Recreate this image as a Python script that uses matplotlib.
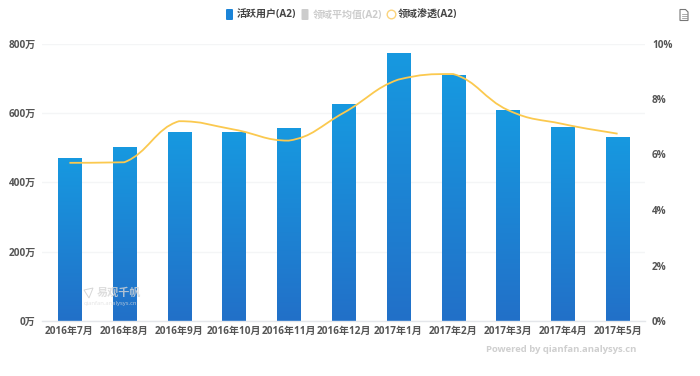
import numpy as np
import matplotlib
matplotlib.use('Agg')
import matplotlib.pyplot as plt
from matplotlib.path import Path
from matplotlib.patches import PathPatch, FancyBboxPatch, Polygon
from matplotlib.colors import LinearSegmentedColormap
from matplotlib.lines import Line2D

plt.rcParams['font.family'] = ['Open Sans', 'Noto Sans CJK SC', 'DejaVu Sans']

months = ['2016年7月', '2016年8月', '2016年9月', '2016年10月', '2016年11月', '2016年12月',
          '2017年1月', '2017年2月', '2017年3月', '2017年4月', '2017年5月']
active_users = [470, 502, 545, 545, 556, 625, 773, 709, 608, 560, 530]
penetration = [5.7, 5.72, 7.2, 6.9, 6.5, 7.5, 8.7, 8.9, 7.6, 7.1, 6.75]
left_ticks = [0, 200, 400, 600, 800]
right_ticks = [0, 2, 4, 6, 8, 10]
legend_names = ['活跃用户(A2)', '领域平均值(A2)', '领域渗透(A2)']

W, H = 700, 376
fig = plt.figure(figsize=(W / 100, H / 100), dpi=100)
ax = fig.add_axes([42 / W, 1 - 321 / H, (645 - 42) / W, (321 - 43.5) / H])
ax2 = ax.twinx()
x = np.arange(len(months))

cmap = LinearSegmentedColormap.from_list('bar', ['#2270c8', '#1799e0'])
grad = np.linspace(0, 1, 256).reshape(-1, 1)
bars = ax.bar(x, active_users, width=0.42, color='none', zorder=2)
for b in bars:
    bx, bw, bh = b.get_x(), b.get_width(), b.get_height()
    im = ax.imshow(grad, extent=[bx, bx + bw, 0, bh], origin='lower', aspect='auto',
                   cmap=cmap, zorder=2)
    im.set_clip_path(b)
ax.set_xlim(-0.5, len(months) - 0.5)
ax.set_ylim(0, 800)
ax2.set_ylim(0, 10)

# smooth curve through the data points, control points kept inside each segment
pts = np.column_stack([x, penetration])
verts = [tuple(pts[0])]
codes = [Path.MOVETO]
s = 0.22
for i in range(len(pts) - 1):
    p0, p1 = pts[max(i - 1, 0)], pts[i]
    p2, p3 = pts[i + 1], pts[min(i + 2, len(pts) - 1)]
    c1 = p1 + s * (p2 - p0)
    c2 = p2 - s * (p3 - p1)
    lo, hi = min(p1[1], p2[1]), max(p1[1], p2[1])
    c1[1] = np.clip(c1[1], lo, hi)
    c2[1] = np.clip(c2[1], lo, hi)
    verts += [tuple(c1), tuple(c2), tuple(p2)]
    codes += [Path.CURVE4] * 3
ax2.add_patch(PathPatch(Path(verts, codes), fc='none', ec='#fbc94f', lw=1.3, zorder=5))

for a in (ax, ax2):
    for sp in a.spines.values():
        sp.set_visible(False)
ax.set_zorder(1)
ax2.set_zorder(2)
ax.patch.set_visible(False)
ax2.patch.set_visible(False)
ax.spines['bottom'].set_visible(True)
ax.spines['bottom'].set_color('#e4e6ea')
ax.spines['bottom'].set_linewidth(1)
ax.set_axisbelow(True)
ax.yaxis.grid(True, color='#f4f5f6', lw=1)
ax.set_xticks(x)
ax.set_xticklabels(months)
ax.set_yticks(left_ticks)
ax.set_yticklabels([f'{v}万' for v in left_ticks])
ax2.set_yticks(right_ticks)
ax2.set_yticklabels([f'{v}%' for v in right_ticks])
for a in (ax, ax2):
    a.tick_params(length=0, labelsize=7.2, labelcolor='#555555')
    for t in a.get_xticklabels() + a.get_yticklabels():
        t.set_fontweight('bold')
ax.tick_params(axis='x', pad=3.5)
ax.tick_params(axis='y', pad=4.5)
ax2.tick_params(axis='y', pad=5)

def px(xp, yp):
    return xp / W, 1 - yp / H

def ftext(xp, yp, s, **kw):
    kw.setdefault('va', 'center')
    kw.setdefault('ha', 'left')
    fig.text(*px(xp, yp), s, **kw)

# legend
fig.add_artist(FancyBboxPatch(px(226, 20), 7 / W, 11 / H, boxstyle='round,pad=0,rounding_size=0.002',
                              transform=fig.transFigure, fc='#1b84d8', ec='none'))
fig.add_artist(FancyBboxPatch(px(301.5, 20), 7 / W, 11 / H, boxstyle='round,pad=0,rounding_size=0.002',
                              transform=fig.transFigure, fc='#cccccc', ec='none'))
fig.add_artist(Line2D([390.5 / W], [1 - 13.5 / H], marker='o', ms=6.2, mfc='white', mec='#fbd47c',
                      mew=1, transform=fig.transFigure, ls='none'))
ftext(237, 15, legend_names[0], fontsize=7.2, fontweight='bold', color='#444444')
ftext(312.5, 15, legend_names[1], fontsize=7.2, fontweight='bold', color='#cccccc')
ftext(398, 15, legend_names[2], fontsize=7.2, fontweight='bold', color='#444444')

# download icon
fig.add_artist(Polygon([px(680, 9.5), px(685.5, 9.5), px(688, 12), px(688, 20.5), px(680, 20.5)],
                       closed=True, fc='white', ec='#777777', lw=0.8, transform=fig.transFigure))
for yy in (13.5, 15.5, 17.5):
    fig.add_artist(Line2D([681.5 / W, 686.5 / W], [1 - yy / H] * 2, color='#888888', lw=0.5,
                          transform=fig.transFigure))

# watermark and credit
ftext(97, 293, '易观千帆', fontsize=8, fontweight='bold', color='#d6d6d6', alpha=0.8, zorder=10)
ftext(84, 304, 'qianfan.analysys.cn', fontsize=4.2, color='#dddddd', alpha=0.8, zorder=10)
fig.add_artist(Polygon([px(84, 290), px(93, 288), px(89, 298)], closed=True, fc='none', ec='#d6d6d6',
                       lw=0.7, transform=fig.transFigure, zorder=10))
ftext(485.5, 349, 'Powered by qianfan.analysys.cn', fontsize=6.8, fontweight='bold', color='#cfcfcf')

fig.savefig('out.png', dpi=100, facecolor='white')
